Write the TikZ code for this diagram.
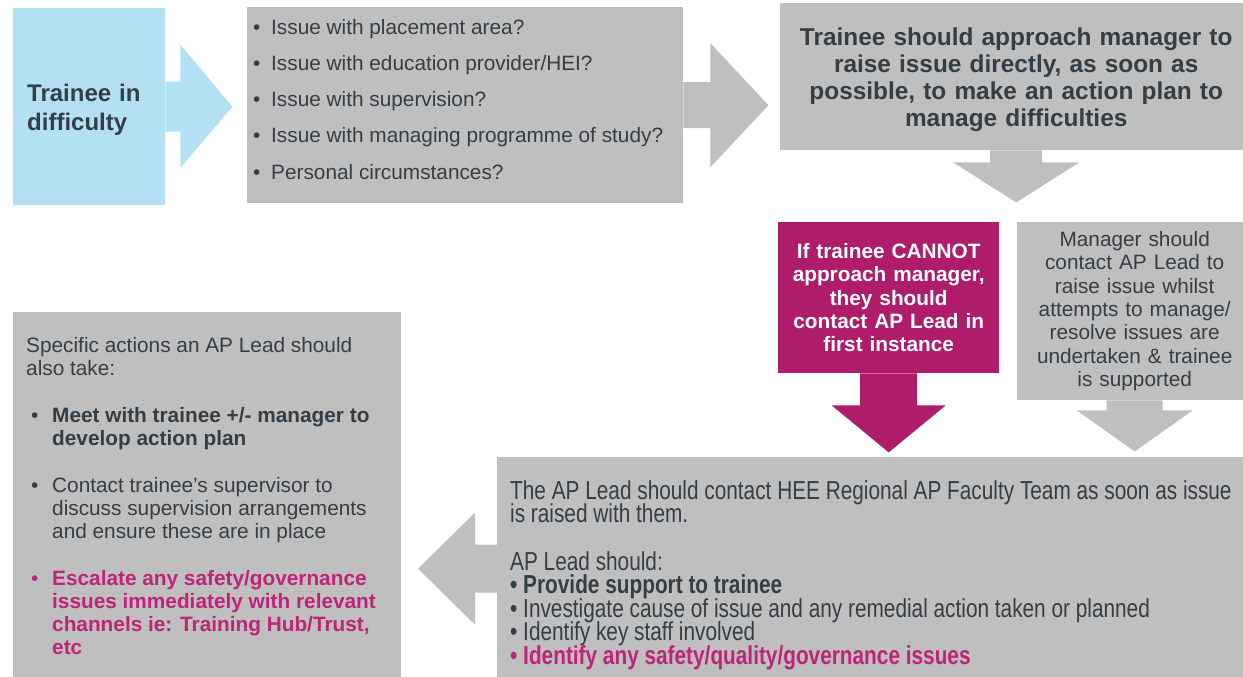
\documentclass[tikz,border=0pt]{standalone}
\usepackage{fontspec}
\setmainfont{Liberation Sans}
\newfontfamily\narrowfont{Liberation Sans}[FakeStretch=0.8]

\definecolor{hblue}{RGB}{180,224,243}
\definecolor{hgrey}{RGB}{191,191,191}
\definecolor{hpink}{RGB}{175,28,106}
\definecolor{textdark}{RGB}{52,62,70}
\definecolor{textpink}{RGB}{190,36,122}

\tikzstyle{casella} = [rectangle, inner sep=0pt, anchor=north west, text=textdark]
\tikzstyle{casellablu} = [casella, fill=hblue]
\tikzstyle{casellagrigia} = [casella, fill=hgrey]
\tikzstyle{casellarosa} = [casella, fill=hpink, text=white]
\tikzstyle{testo} = [anchor=north west, align=left, inner sep=0pt, text=textdark]

\newcommand{\pallino}{\makebox[18pt][l]{•}}
\newcommand{\puntino}{\hspace*{5pt}\makebox[21pt][l]{•}}
\newcommand{\rientro}{\hspace*{26pt}}

\begin{document}
\begin{tikzpicture}[x=1pt, y=-1pt]

    \useasboundingbox (0,0) rectangle (1243,677);

    % Riquadri
    \node[casellablu, minimum width=152pt, minimum height=197pt, text width=124pt, align=left,
        font=\bfseries\fontsize{24}{29}\selectfont] (trainee) at (13,8) {\rule{0pt}{23pt}Trainee in\\difficulty};
    \node[casellagrigia, minimum width=436pt, minimum height=196pt] (issues) at (247,7) {};
    \node[casellagrigia, minimum width=472pt, minimum height=147pt, text width=450pt, align=center,
        font=\bfseries\fontsize{24.4}{27}\selectfont] (approach) at (780,3)
        {\rule{0pt}{23pt}Trainee should approach manager to\\raise issue directly, as soon as\\possible, to make an action plan to\\manage difficulties};
    \node[casellarosa, minimum width=221pt, minimum height=151pt, text width=210pt, align=center,
        font=\bfseries\fontsize{20.8}{23.3}\selectfont] (cannot) at (778,222)
        {If trainee CANNOT\\approach manager,\\they should\\contact AP Lead in\\first instance};
    \node[casellagrigia, minimum width=235pt, minimum height=178pt, text width=225pt, align=center,
        font=\fontsize{20.8}{23.3}\selectfont] (manager) at (1017,222)
        {Manager should\\contact AP Lead to\\raise issue whilst\\attempts to manage/\\resolve issues are\\undertaken \& trainee\\is supported};
    \node[casellagrigia, minimum width=755pt, minimum height=223pt] (aplead) at (497,457) {};
    \node[casellagrigia, minimum width=388pt, minimum height=368pt] (actions) at (13,312) {};

    % Frecce
    \fill[hblue] (trainee.east) ++(0,-25) -- ++(15,0) -- ++(0,-37) -- ++(52,62) -- ++(-52,61) -- ++(0,-36) -- ++(-15,0) -- cycle;
    \fill[hgrey] (issues.east) ++(0,-23) -- ++(27,0) -- ++(0,-39) -- ++(58,62) -- ++(-58,62) -- ++(0,-39) -- ++(-27,0) -- cycle;
    \fill[hgrey] (approach.south) ++(-26,0) -- ++(0,12) -- ++(-37,0) -- ++(63,40) -- ++(63,-40) -- ++(-37,0) -- ++(0,-12) -- cycle;
    \fill[hpink] (cannot.south) ++(-28.5,0) -- ++(0,32) -- ++(-28.5,0) -- ++(57,47) -- ++(57,-47) -- ++(-28.5,0) -- ++(0,-32) -- cycle;
    \fill[hgrey] (manager.south) ++(-28,0) -- ++(0,10) -- ++(-30,0) -- ++(58,41) -- ++(58,-41) -- ++(-30,0) -- ++(0,-10) -- cycle;
    \fill[hgrey] (aplead.west) ++(0,-24) -- ++(-22,0) -- ++(0,-32) -- ++(-57,56) -- ++(57,56) -- ++(0,-32) -- ++(22,0) -- cycle;

    % Testi
    \node[testo, font=\fontsize{20.8}{36.2}\selectfont] (issuelist) at ([xshift=6pt, yshift=-12pt]issues.north west)
        {\pallino Issue with placement area?\\
         \pallino Issue with education provider/HEI?\\
         \pallino Issue with supervision?\\
         \pallino Issue with managing programme of study?\\
         \pallino Personal circumstances?};
    \node[testo, font=\fontsize{20.8}{23}\selectfont] (actionlist) at ([xshift=13pt, yshift=-25pt]actions.north west)
        {Specific actions an AP Lead should\\
         also take:\\[24pt]
         \puntino\textbf{Meet with trainee +/- manager to}\\
         \rientro\textbf{develop action plan}\\[24pt]
         \puntino Contact trainee's supervisor to\\
         \rientro discuss supervision arrangements\\
         \rientro and ensure these are in place\\[24pt]
         \textcolor{textpink}{\puntino\textbf{Escalate any safety/governance}}\\
         \textcolor{textpink}{\rientro\textbf{issues immediately with relevant}}\\
         \textcolor{textpink}{\rientro\textbf{channels ie: Training Hub/Trust,}}\\
         \textcolor{textpink}{\rientro\textbf{etc}}};
    \node[testo, font={\narrowfont\fontsize{26}{23.5}\selectfont\lineskiplimit=-20pt}] (apleadtext) at ([xshift=13pt, yshift=-23pt]aplead.north west)
        {The AP Lead should contact HEE Regional AP Faculty Team as soon as issue\\
         is raised with them.\\[24pt]
         AP Lead should:\\
         \textbf{• Provide support to trainee}\\
         • Investigate cause of issue and any remedial action taken or planned\\
         • Identify key staff involved\\
         \textcolor{textpink}{\textbf{• Identify any safety/quality/governance issues}}};

\end{tikzpicture}
\end{document}
